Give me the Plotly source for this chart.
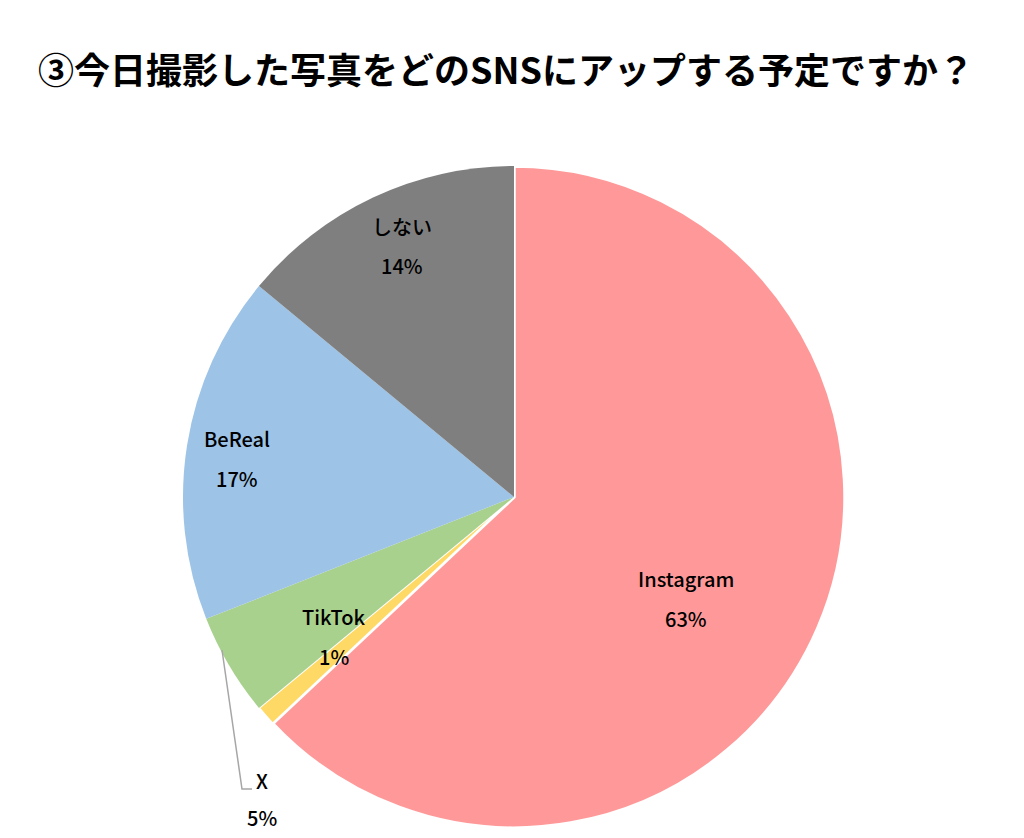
import plotly.graph_objects as go

# slices in clockwise order from 12 o'clock
labels = ["Instagram", "TikTok", "X", "BeReal", "しない"]
values = [63, 1, 5, 17, 14]
colors = ["#FF9999", "#FFD966", "#A9D18E", "#9DC3E6", "#7F7F7F"]

title = "③今日撮影した写真をどのSNSにアップする予定ですか？"

# label positions in page pixels (top-left origin), like the original data labels
label_pos = {
    "Instagram": (686, 578),
    "TikTok": (334, 616),
    "X": (262, 780),
    "BeReal": (237, 438),
    "しない": (402, 226),
}

OFF = 8  # page body margin
W, H = 1024 - 2 * OFF, 838 - 2 * OFF
cx, cy, r = 514, 497, 331

font_family = "Noto Sans CJK JP, Noto Sans, sans-serif"


def px(x):
    return (x - OFF) / W


def py(y):
    return 1 - (y - OFF) / H


fig = go.Figure(go.Pie(
    labels=labels,
    values=values,
    sort=False,
    direction="clockwise",
    rotation=0,
    # only the Instagram and TikTok slices have a white edge in the original
    marker=dict(colors=colors, line=dict(color="white", width=[3.5, 2, 0, 0, 0])),
    textinfo="none",
    hoverinfo="label+percent",
    domain=dict(x=[px(cx - r), px(cx + r)], y=[py(cy + r), py(cy - r)]),
))

annotations = []
for lab, val in zip(labels, values):
    lx, ly = label_pos[lab]
    gap = 37 if lab == "X" else 40
    for i, txt in enumerate([lab, f"{val}%"]):
        annotations.append(dict(
            x=px(lx), y=py(ly + i * gap),
            xref="paper", yref="paper",
            text=txt, showarrow=False,
            font=dict(size=20, color="black", family=font_family, weight=500),
            xanchor="center", yanchor="middle",
        ))

annotations.append(dict(
    x=px(506), y=py(68), xref="paper", yref="paper",
    text=title, showarrow=False,
    font=dict(size=36, color="black", family=font_family, weight="bold"),
    xanchor="center", yanchor="middle",
))

# leader line for the X label
fig.add_shape(type="path",
              path=f"M {px(222)} {py(650)} L {px(242)} {py(789)} L {px(252)} {py(789)}",
              xref="paper", yref="paper",
              line=dict(color="#A6A6A6", width=1.5))

fig.update_layout(
    width=W, height=H,
    margin=dict(l=0, r=0, t=0, b=0),
    paper_bgcolor="white",
    plot_bgcolor="white",
    showlegend=False,
    annotations=annotations,
)

fig.write_html("out.html")
